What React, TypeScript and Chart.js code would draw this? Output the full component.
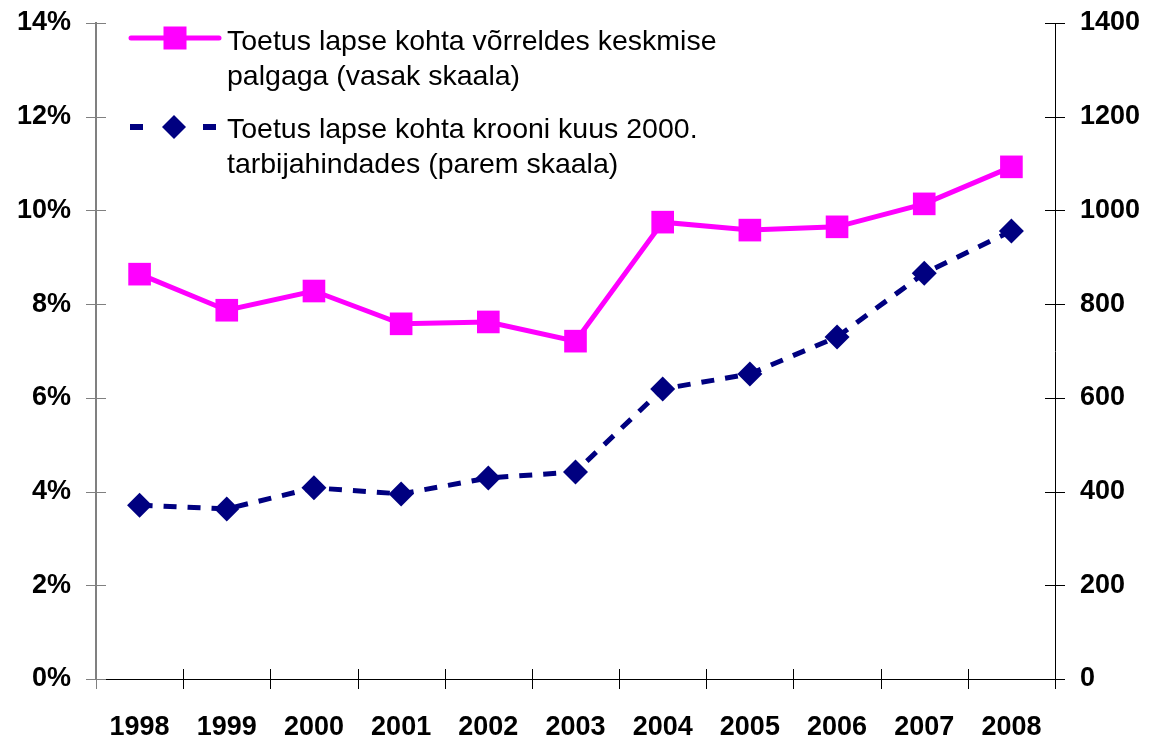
import React, { useEffect, useRef } from "react";
import { Chart, registerables } from "chart.js";

Chart.register(...registerables);

const years = ["1998", "1999", "2000", "2001", "2002", "2003", "2004", "2005", "2006", "2007", "2008"];
const shareOfWage = [8.64, 7.87, 8.28, 7.58, 7.62, 7.21, 9.75, 9.58, 9.65, 10.14, 10.93];
const realKroons = [371, 363, 408, 395, 429, 442, 619, 651, 730, 866, 956];
const legendLabels1 = ["Toetus lapse kohta võrreldes keskmise", "palgaga (vasak skaala)"];
const legendLabels2 = ["Toetus lapse kohta krooni kuus 2000.", "tarbijahindades (parem skaala)"];

const PINK = "#FF00FF";
const NAVY = "#000080";
const FONT = "'Liberation Sans', Arial, sans-serif";

const decorPlugin = {
  id: "decor",
  afterDraw(chart: any) {
    const ctx = chart.ctx as CanvasRenderingContext2D;
    const x = chart.scales.x;
    const yL = chart.scales.yL;
    const yR = chart.scales.yR;
    ctx.save();
    // left cross ticks
    ctx.strokeStyle = "#808080";
    ctx.lineWidth = 1;
    yL.ticks.forEach((t: any) => {
      const py = Math.round(yL.getPixelForValue(t.value)) + 0.5;
      ctx.beginPath();
      ctx.moveTo(x.left - 10, py);
      ctx.lineTo(x.left + 10, py);
      ctx.stroke();
    });
    // right cross ticks
    ctx.strokeStyle = "#000";
    yR.ticks.forEach((t: any) => {
      const py = Math.round(yR.getPixelForValue(t.value)) + 0.5;
      ctx.beginPath();
      ctx.moveTo(x.right - 10, py);
      ctx.lineTo(x.right + 10, py);
      ctx.stroke();
    });
    // category boundary ticks
    const n = years.length;
    for (let i = 0; i <= n; i++) {
      const px = Math.round(x.left + (i * x.width) / n) + 0.5;
      ctx.strokeStyle = i === 0 ? "#808080" : "#000";
      ctx.beginPath();
      ctx.moveTo(px, x.top - 10);
      ctx.lineTo(px, x.top + 10);
      ctx.stroke();
    }

    // legend
    ctx.strokeStyle = PINK;
    ctx.lineWidth = 5;
    ctx.lineCap = "round";
    ctx.beginPath();
    ctx.moveTo(131, 38);
    ctx.lineTo(219, 38);
    ctx.stroke();
    ctx.fillStyle = PINK;
    ctx.fillRect(175 - 11.5, 38 - 11.5, 23, 23);

    ctx.fillStyle = NAVY;
    ctx.fillRect(130, 124, 13, 6);
    ctx.fillRect(203, 124, 13, 6);
    ctx.beginPath();
    ctx.moveTo(174, 115);
    ctx.lineTo(186, 127);
    ctx.lineTo(174, 139);
    ctx.lineTo(162, 127);
    ctx.closePath();
    ctx.fill();

    ctx.fillStyle = "#000";
    ctx.font = `28.5px ${FONT}`;
    ctx.textAlign = "left";
    ctx.textBaseline = "alphabetic";
    ctx.fillText(legendLabels1[0], 227, 50);
    ctx.fillText(legendLabels1[1], 227, 85);
    ctx.fillText(legendLabels2[0], 227, 138);
    ctx.fillText(legendLabels2[1], 227, 173);
    ctx.restore();
  },
};

export default function App() {
  const ref = useRef<HTMLCanvasElement | null>(null);
  useEffect(() => {
    if (!ref.current) return;
    const tickFont = { family: FONT, size: 27, weight: "bold" as const };
    const chart = new Chart(ref.current, {
      type: "line",
      data: {
        labels: years,
        datasets: [
          {
            label: legendLabels1.join(" "),
            data: shareOfWage,
            yAxisID: "yL",
            borderColor: PINK,
            backgroundColor: PINK,
            borderWidth: 5,
            pointStyle: "rect",
            pointRadius: 16,
            pointBorderWidth: 0,
            tension: 0,
          },
          {
            label: legendLabels2.join(" "),
            data: realKroons,
            yAxisID: "yR",
            borderColor: NAVY,
            backgroundColor: NAVY,
            borderWidth: 5,
            borderDash: [13, 11],
            pointStyle: "rectRot",
            pointRadius: 12.5,
            pointBorderWidth: 0,
            tension: 0,
          },
        ],
      },
      options: {
        responsive: false,
        animation: false,
        layout: { padding: { top: 23, left: 0, right: 0, bottom: 0 } },
        plugins: { legend: { display: false }, tooltip: { enabled: false } },
        scales: {
          x: {
            type: "category",
            offset: true,
            grid: { display: false, drawTicks: false, offset: true },
            border: { display: true, color: "#000", width: 1 },
            ticks: { font: tickFont, color: "#000", padding: 32, maxRotation: 0, autoSkip: false },
            afterFit: (s: any) => {
              s.height = 60;
              s.paddingLeft = 0;
              s.paddingRight = 0;
            },
          },
          yL: {
            position: "left",
            min: 0,
            max: 14,
            grid: { display: false, drawTicks: false },
            border: { display: true, color: "#808080", width: 2 },
            ticks: { stepSize: 2, font: tickFont, color: "#000", padding: 25, callback: (v: any) => `${v}%` },
            afterFit: (s: any) => {
              s.width = 96;
              s.paddingTop = 0;
              s.paddingBottom = 0;
            },
          },
          yR: {
            position: "right",
            min: 0,
            max: 1400,
            grid: { display: false, drawTicks: false },
            border: { display: true, color: "#000", width: 1 },
            ticks: { stepSize: 200, font: tickFont, color: "#000", padding: 25, callback: (v: any) => String(v) },
            afterFit: (s: any) => {
              s.width = 108;
              s.paddingTop = 0;
              s.paddingBottom = 0;
            },
          },
        },
      } as any,
      plugins: [decorPlugin],
    });
    return () => chart.destroy();
  }, []);
  return (
    <div style={{ position: "fixed", left: 0, top: 0, width: 1163, height: 739, background: "#fff" }}>
      <canvas ref={ref} width={1163} height={739} style={{ display: "block" }} />
    </div>
  );
}
